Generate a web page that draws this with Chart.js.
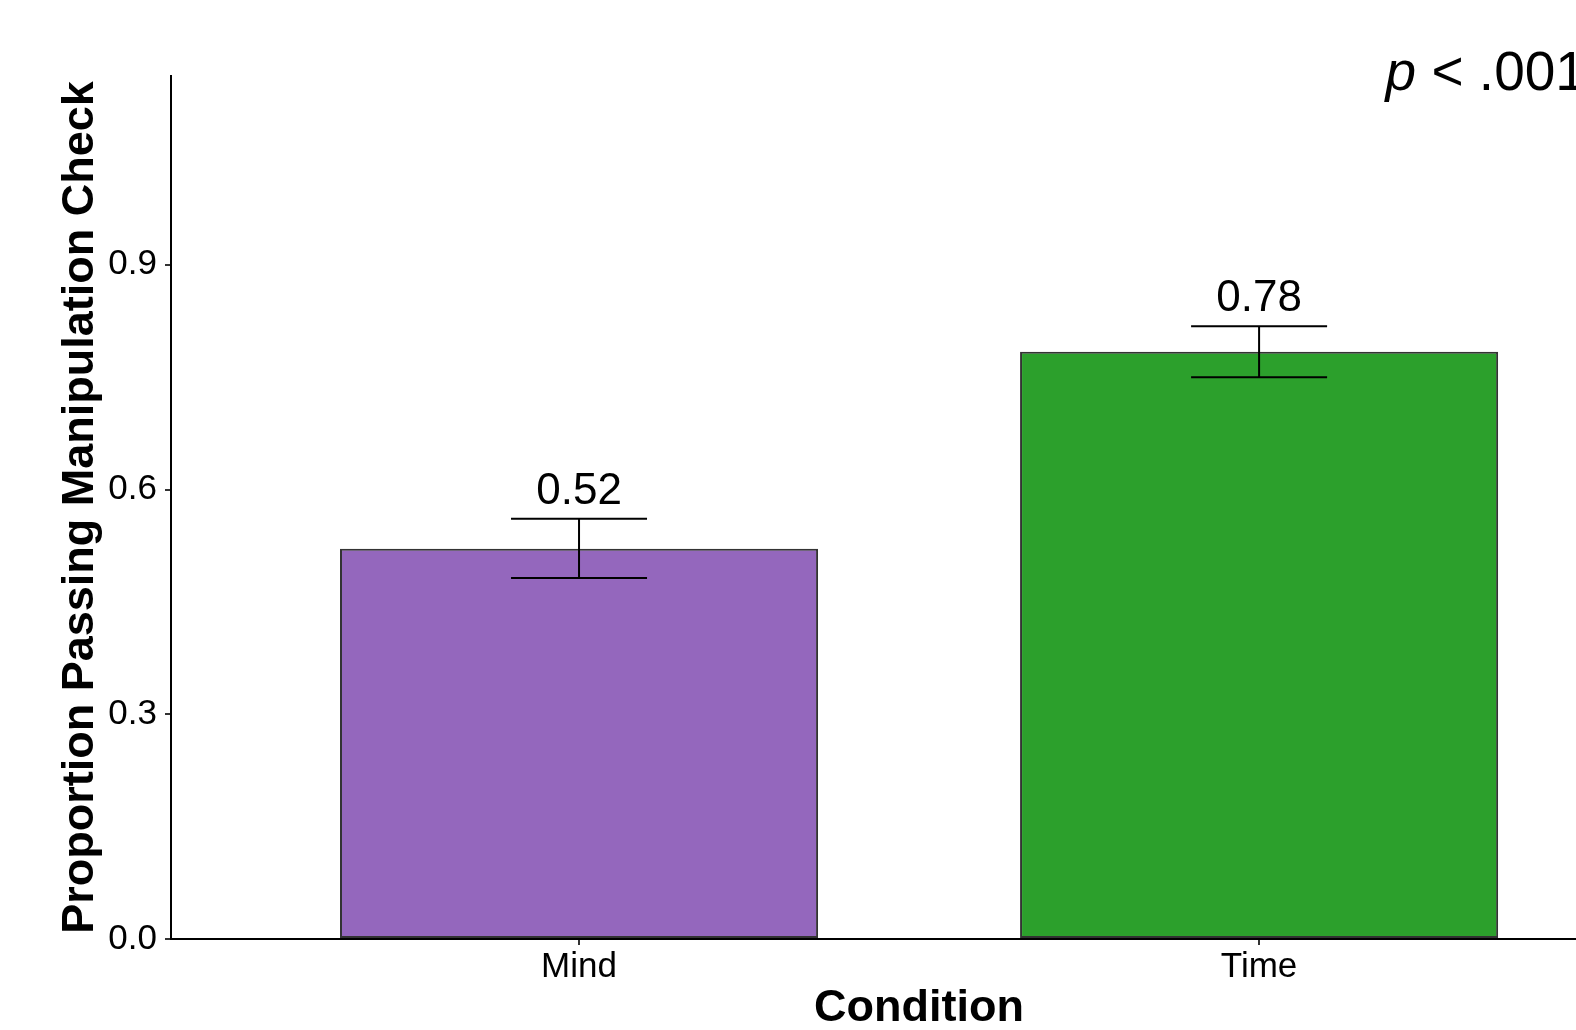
<!DOCTYPE html>
<html>
<head>
<meta charset="utf-8">
<title>Proportion Passing Manipulation Check</title>
<script src="https://cdn.jsdelivr.net/npm/chart.js@4/dist/chart.umd.min.js"></script>
<style>
  html, body { margin: 0; padding: 0; background: #ffffff; overflow: hidden; }
  #wrap { width: 1576px; height: 1030px; }
</style>
</head>
<body>
<div id="wrap"><canvas id="chart" width="1576" height="1030"></canvas></div>
<script>
// Conditions and their pass proportions with standard-error bounds
const categories = ['Mind', 'Time'];
const proportions = [0.521, 0.784];
const lowerBounds = [0.482, 0.750];
const upperBounds = [0.561, 0.818];
const barColors = ['#9467BD', '#2CA02C'];
const yTickValues = [0.0, 0.3, 0.6, 0.9];
const xAxisTitle = 'Condition';
const pValueText = ['p', ' < .001'];

const FONT = '"Liberation Sans", Arial, Helvetica, sans-serif';

// Error bars, value labels, the x-axis title and the significance note
const annotations = {
  id: 'annotations',
  afterDatasetsDraw(chart) {
    const { ctx, scales: { x, y } } = chart;
    ctx.save();
    ctx.strokeStyle = '#000000';
    ctx.lineWidth = 2;
    categories.forEach((cat, i) => {
      const cx = x.getPixelForValue(i + 1);
      const half = x.getPixelForValue(i + 1.1) - cx;
      const yLo = y.getPixelForValue(lowerBounds[i]);
      const yHi = y.getPixelForValue(upperBounds[i]);
      ctx.beginPath();
      ctx.moveTo(cx, yLo); ctx.lineTo(cx, yHi);
      ctx.moveTo(cx - half, yHi); ctx.lineTo(cx + half, yHi);
      ctx.moveTo(cx - half, yLo); ctx.lineTo(cx + half, yLo);
      ctx.stroke();

      ctx.fillStyle = '#000000';
      ctx.font = '44px ' + FONT;
      ctx.textAlign = 'center';
      ctx.textBaseline = 'alphabetic';
      ctx.fillText(proportions[i].toFixed(2), cx, y.getPixelForValue(upperBounds[i] + 0.02));
    });

    // x-axis title, centred on the full panel width (0.4 .. 2.6)
    ctx.fillStyle = '#000000';
    ctx.font = 'bold 45px ' + FONT;
    ctx.textAlign = 'center';
    ctx.textBaseline = 'alphabetic';
    ctx.fillText(xAxisTitle, x.getPixelForValue(1.5), x.bottom - 9);

    // significance note in the upper right
    let px = x.getPixelForValue(2.186);
    const py = y.getPixelForValue(1.133);
    ctx.textAlign = 'left';
    ctx.font = 'italic 55px ' + FONT;
    ctx.fillText(pValueText[0], px, py);
    px += ctx.measureText(pValueText[0]).width;
    ctx.font = '55px ' + FONT;
    ctx.fillText(pValueText[1], px, py);
    ctx.restore();
  }
};

new Chart(document.getElementById('chart'), {
  type: 'bar',
  data: {
    datasets: [{
      data: categories.map((c, i) => ({ x: i + 1, y: proportions[i] })),
      backgroundColor: barColors,
      borderColor: '#333333',
      borderWidth: 2,
      borderSkipped: false,
      barPercentage: 0.703,
      categoryPercentage: 1.0
    }]
  },
  options: {
    responsive: false,
    animation: false,
    events: [],
    layout: { padding: { top: 76, left: 0, right: 0, bottom: 0 } },
    plugins: { legend: { display: false }, tooltip: { enabled: false } },
    scales: {
      x: {
        type: 'linear',
        min: 0.4,
        max: 2.466,
        offset: false,
        afterBuildTicks(scale) { scale.ticks = categories.map((c, i) => ({ value: i + 1 })); },
        afterFit(scale) { scale.height = 91; },
        ticks: {
          autoSkip: false,
          maxRotation: 0,
          padding: 1,
          color: '#000000',
          font: { family: FONT, size: 35, lineHeight: 1.2 },
          callback: (v) => categories[Math.round(v) - 1]
        },
        grid: { offset: false, drawOnChartArea: false, drawTicks: true, tickLength: 6, color: '#333333', lineWidth: 2 },
        border: { display: true, color: '#000000', width: 2 }
      },
      y: {
        min: 0,
        max: 1.152,
        afterBuildTicks(scale) { scale.ticks = yTickValues.map(v => ({ value: v })); },
        afterFit(scale) { scale.width = 171; },
        ticks: {
          autoSkip: false,
          padding: 8,
          color: '#000000',
          font: { family: FONT, size: 35, lineHeight: 1.2 },
          callback: (v) => Number(v).toFixed(1)
        },
        grid: { drawOnChartArea: false, drawTicks: true, tickLength: 6, color: '#333333', lineWidth: 2 },
        border: { display: true, color: '#000000', width: 2 },
        title: {
          display: true,
          text: 'Proportion Passing Manipulation Check',
          color: '#000000',
          font: { family: FONT, size: 45, weight: 'bold', lineHeight: 1 },
          padding: { top: 58, bottom: 0 }
        }
      }
    }
  },
  plugins: [annotations]
});
</script>
</body>
</html>
